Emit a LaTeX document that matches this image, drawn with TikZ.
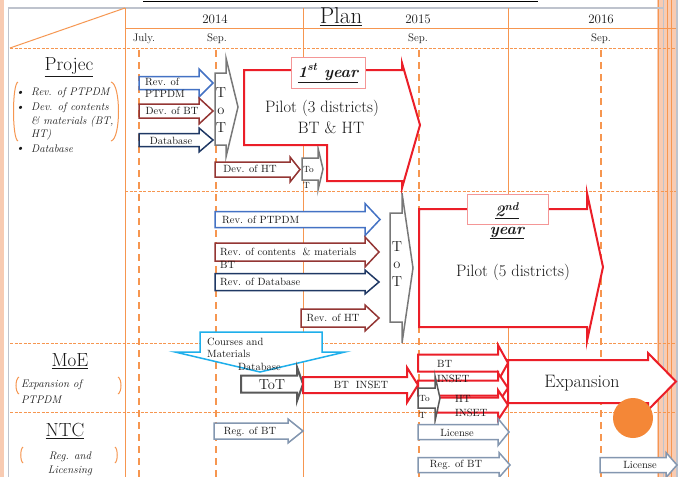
\documentclass[tikz,border=0pt]{standalone}
\usepackage{fontspec}
\definecolor{orl}{RGB}{246,150,80}
\definecolor{gbd}{RGB}{190,195,205}
\definecolor{pnk}{RGB}{248,203,178}
\definecolor{blu}{RGB}{68,114,196}
\definecolor{drd}{RGB}{148,54,52}
\definecolor{nvy}{RGB}{31,56,100}
\definecolor{gry}{RGB}{120,120,120}
\definecolor{dgry}{RGB}{89,89,89}
\definecolor{slt}{RGB}{132,151,176}
\definecolor{rdb}{RGB}{235,30,40}
\definecolor{pkl}{RGB}{244,150,150}
\definecolor{cyn}{RGB}{30,175,235}
\definecolor{orc}{RGB}{244,135,55}
\definecolor{txt}{RGB}{25,25,25}
\newcommand{\fsz}[1]{\fontsize{#1}{#1}\selectfont}
% style, x1, tip, yc, half shaft, half head, head base
\newcommand{\blkarrow}[7]{%
  \draw[#1] (#2,#4-#5) -- (#7,#4-#5) -- (#7,#4-#6) -- (#3,#4) -- (#7,#4+#6) -- (#7,#4+#5) -- (#2,#4+#5) -- cycle;}
\begin{document}
\begin{tikzpicture}[x=1pt,y=-1pt,
  every node/.style={inner sep=0pt, text=txt},
  osol/.style={draw=orl, line width=1pt},
  odh/.style={draw=orl, line width=0.9pt, dash pattern=on 3pt off 1.5pt},
  odv/.style={draw=orl, line width=1.4pt, dash pattern=on 7pt off 5pt},
  brk/.style={draw=orl, line width=1pt},
  arb/.style={draw=blu, line width=1.5pt, fill=white, line join=miter},
  ard/.style={draw=drd, line width=1.5pt, fill=white, line join=miter},
  arn/.style={draw=nvy, line width=1.5pt, fill=white, line join=miter},
  arg/.style={draw=gry, line width=1.5pt, fill=white, line join=miter},
  ardg/.style={draw=dgry, line width=2pt, fill=white, line join=miter},
  ars/.style={draw=slt, line width=1.5pt, fill=white, line join=miter},
  arr/.style={draw=rdb, line width=2pt, fill=white, line join=miter},
  lab/.style={font=\fsz{10.5}},
  smal/.style={font=\fsz{9}},
  head/.style={font=\fsz{19}},
  itl/.style={font=\fsz{11}\itshape},
  totl/.style={font=\fsz{14.5}},
  pil/.style={font=\fsz{16.5}},
  yr/.style={font=\fsz{16}\bfseries\itshape}
]
\useasboundingbox (0,0) rectangle (678,477);
\fill[white] (0,0) rectangle (678,477);
% side bands
\fill[pnk] (0,0) rectangle (3.5,477);
\fill[pnk] (657,0) rectangle (678,477);
\draw[orl, line width=0.6pt] (658.5,0) -- (658.5,477) (667,0) -- (667,477) (671.5,0) -- (671.5,477);
\draw[gbd, line width=1.2pt] (663.5,0) -- (663.5,477) (677,0) -- (677,477);
% table frame
\draw[gbd, line width=1.5pt] (8.5,477) -- (8.5,8) -- (663.5,8);
% title line
\draw[black, line width=1pt] (143,1.5) -- (538,1.5);
% grid
\draw[osol] (10,48) -- (125,8);
\draw[osol] (125,8) -- (125,477);
\draw[osol] (125,28) -- (676,28);
\draw[osol] (303,8) -- (303,477);
\draw[osol] (508,8) -- (508,477);
\draw[odh] (10,48) -- (676,48);
\draw[odh] (125,191) -- (676,191);
\draw[odh] (10,343) -- (676,343);
\draw[odh] (10,412) -- (676,412);
\foreach \xx in {139,216,419,601} \draw[odv] (\xx,50) -- (\xx,477);
% header texts
\node[font=\fsz{23}] (plan) at (341,17) {\underline{Plan}};
\node[font=\fsz{13}] (y14) at (215,19) {2014};
\node[font=\fsz{13}] (y15) at (418,19) {2015};
\node[font=\fsz{13}] (y16) at (601,19) {2016};
\node[font=\fsz{11}] (m1) at (144,39) {July.};
\node[font=\fsz{11}] (m2) at (217,39) {Sep.};
\node[font=\fsz{11}] (m3) at (418,39) {Sep.};
\node[font=\fsz{11}] (m4) at (601,39) {Sep.};
% left column
\node[head] (projec) at (69,67) {\underline{Projec}};
\node[itl] (b1) at (20,93) {\textbullet};
\node[itl] (b2) at (20,108) {\textbullet};
\node[itl] (b3) at (20,149) {\textbullet};
\node[itl, anchor=west] (p1) at (31,93) {Rev. of PTPDM};
\node[itl, anchor=west] (p2) at (31,108) {Dev. of contents};
\node[itl, anchor=west] (p3) at (31,122) {\& materials (BT,};
\node[itl, anchor=west] (p4) at (31,135) {HT)};
\node[itl, anchor=west] (p5) at (31,149) {Database};
\draw[brk] (18,82) .. controls (12,84) and (12,139) .. (18,141);
\draw[brk] (111,82) .. controls (121,84) and (121,139) .. (111,141);
\node[head] (moe) at (70,361) {\underline{MoE}};
\node[itl, anchor=west] (m1t) at (21,385) {Expansion of};
\node[itl, anchor=west] (m2t) at (21,400) {PTPDM};
\draw[brk] (19,377) .. controls (15,379) and (15,392) .. (19,394);
\draw[brk] (118,377) .. controls (122,379) and (122,392) .. (118,394);
\node[head] (ntc) at (65,431) {\underline{NTC}};
\node[itl] (n1t) at (70,457) {Reg. and};
\node[itl] (n2t) at (70,471) {Licensing};
\draw[brk] (23,447) .. controls (20,449) and (20,461) .. (23,463);
\draw[brk] (115,447) .. controls (118,449) and (118,461) .. (115,463);
% ---- 1st year block
\blkarrow{arb}{139}{213}{83}{6.5}{14}{199}
\node[lab, anchor=west] (a1a) at (145,82) {Rev. of};
\node[lab, anchor=west] (a1b) at (145,94) {PTPDM};
\blkarrow{ard}{139}{213}{111}{7}{13}{199}
\node[lab] (a2) at (172,111) {Dev. of BT};
\blkarrow{arn}{139}{213}{140}{6.5}{12}{199}
\node[lab] (a3) at (171,141) {Database};
\draw[arg] (215,73) -- (226,73) -- (226,58) -- (238,107) -- (226,157) -- (226,145) -- (215,145) -- cycle;
\node[totl] (tot1a) at (221,93) {T};
\node[totl] (tot1b) at (221,111) {o};
\node[totl] (tot1c) at (221,128) {T};
\blkarrow{ard}{215}{300}{169.5}{7.5}{12.5}{290}
\node[lab] (a5) at (250,169) {Dev. of HT};
\draw[arg] (302,158) -- (318,158) -- (318,148) -- (323,169) -- (318,190) -- (318,180) -- (302,180) -- cycle;
\node[smal, anchor=west] (tt1a) at (303,169) {To};
\node[smal, anchor=west] (tt1b) at (303,185) {T};
\draw[arr] (244,70) -- (402,70) -- (402,63) -- (420,125) -- (402,188) -- (402,181) -- (327,181) -- (327,145) -- (244,145) -- cycle;
\draw[pkl, line width=1pt, fill=white] (291,57) rectangle (365,88);
\node[yr] (yr1) at (328,73) {\underline{1\textsuperscript{st} year}};
\node[pil] (pil1a) at (322,108) {Pilot (3 districts)};
\node[pil] (pil1b) at (331,128) {BT \& HT};
% ---- 2nd year block
\blkarrow{arb}{215}{380}{219.5}{8}{16}{365}
\node[lab, anchor=west] (c1) at (222,220) {Rev. of PTPDM};
\blkarrow{ard}{215}{379}{252}{9}{15}{365}
\node[lab, anchor=west] (c2a) at (220,252) {Rev. of contents\ \ \& materials};
\node[lab, anchor=west] (c2b) at (220,265) {BT};
\blkarrow{arn}{215}{379}{282}{8.5}{12}{365}
\node[lab, anchor=west] (c3) at (220,282) {Rev. of Database};
\blkarrow{ard}{301}{379}{318}{9}{13}{365}
\node[lab] (c4) at (333,318) {Rev. of HT};
\draw[arg] (390,213) -- (402,213) -- (402,193) -- (413,268) -- (402,343) -- (402,322) -- (390,322) -- cycle;
\node[totl] (tot2a) at (397,247) {T};
\node[totl] (tot2b) at (397,265) {o};
\node[totl] (tot2c) at (397,282) {T};
\draw[arr] (419,209) -- (587,209) -- (587,193) -- (603,267) -- (587,341) -- (587,327) -- (419,327) -- cycle;
\draw[pkl, line width=1pt, fill=white] (467,194) rectangle (548,224);
\node[yr] (yr2a) at (507,211) {\underline{2\textsuperscript{nd}}};
\node[yr] (yr2b) at (507,233) {\underline{year}};
\node[pil] (pil2) at (513,272) {Pilot (5 districts)};
% ---- MoE row
\draw[cyn, line width=1.5pt, fill=white, line join=miter] (200,332) -- (322,332) -- (322,352) -- (345,352) -- (260,372) -- (175,352) -- (200,352) -- cycle;
\node[lab, anchor=west] (co1) at (207,342) {Courses and};
\node[lab, anchor=west] (co2) at (207,354) {Materials};
\node[lab, anchor=west] (co3) at (238,367) {Database};
\blkarrow{ardg}{241}{303}{384}{8.5}{17}{297}
\node[font=\fsz{14.5}] (tot3) at (272,385) {ToT};
\blkarrow{arr}{303}{418}{385}{8}{17.5}{407}
\node[lab] (ins) at (361,385) {BT\ \ INSET};
\blkarrow{arr}{418}{508}{363}{8.5}{18}{498}
\blkarrow{arr}{418}{508}{388}{7.5}{15}{498}
\blkarrow{arr}{437}{508}{405}{7.5}{15}{498}
\node[lab, anchor=west] (bi1) at (437,364) {BT};
\node[lab, anchor=west] (bi2) at (437,379) {INSET};
\node[lab, anchor=west] (hi1) at (455,399) {HT};
\node[lab, anchor=west] (hi2) at (455,413) {INSET};
\draw[ardg, line width=1.5pt] (418,388) -- (435,388) -- (435,376) -- (440,398) -- (435,421) -- (435,408) -- (418,408) -- cycle;
\node[smal, anchor=west] (tt2a) at (419,398) {To};
\node[smal, anchor=west] (tt2b) at (419,415) {T};
\blkarrow{arr}{508}{676}{381.5}{21.5}{28.5}{648}
\node[font=\fsz{18}] (exp) at (582,383) {Expansion};
\fill[orc] (633,418) circle (20);
% ---- NTC row
\blkarrow{ars}{214}{303}{431}{8}{12}{288}
\node[lab] (r1) at (250,432) {Reg. of BT};
\blkarrow{ars}{418}{509}{432}{7.5}{13.5}{498}
\node[lab] (l1) at (457,433) {License};
\blkarrow{ars}{418}{510}{465}{7.5}{12.5}{499}
\node[lab] (r2) at (456,465) {Reg. of BT};
\blkarrow{ars}{600}{677}{465}{7.5}{12.5}{666}
\node[lab] (l2) at (640,465) {License};
\end{tikzpicture}
\end{document}
